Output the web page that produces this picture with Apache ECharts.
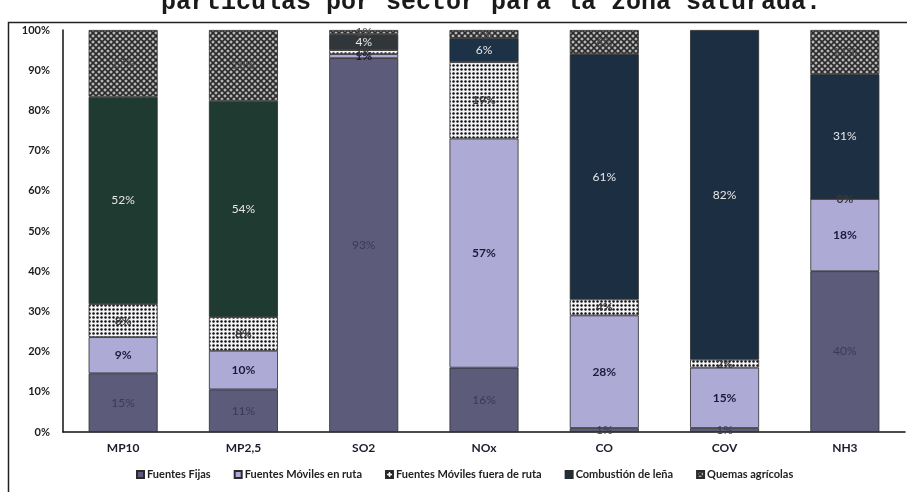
<!DOCTYPE html>
<html>
<head>
<meta charset="utf-8">
<script src="https://cdn.jsdelivr.net/npm/echarts@6/dist/echarts.min.js"></script>
<style>
  html, body { margin: 0; padding: 0; background: #ffffff; }
  #chart { width: 907px; height: 492px; }
</style>
</head>
<body>
<div id="chart"></div>
<script>
// Emission shares (%) by source sector for each pollutant
const categories = ['MP10', 'MP2,5', 'SO2', 'NOx', 'CO', 'COV', 'NH3'];
const seriesNames = ['Fuentes Fijas', 'Fuentes Móviles en ruta', 'Fuentes Móviles fuera de ruta', 'Combustión de leña', 'Quemas agrícolas'];
const fuentesFijas     = [14.6, 10.6, 93, 16, 1, 1, 40];
const movilesRuta      = [9.0, 9.6, 1, 57, 28, 15, 18];
const movilesFueraRuta = [8.2, 8.4, 1, 19, 4, 2, 0];
const combustionLena   = [51.6, 53.8, 4, 6, 61, 82, 31];
const quemasAgricolas  = [16.6, 17.6, 1, 2, 6, null, 11];
const yTicks = ['0%', '10%', '20%', '30%', '40%', '50%', '60%', '70%', '80%', '90%', '100%'];

// Print tone of the wood-burning segment in each column
const lenaTones = ['#1f3a31', '#1f3a31', '#30363a', '#1d3246', '#1b2e42', '#1b2e42', '#1c2f43'];

function makePattern(size, draw) {
  const c = document.createElement('canvas');
  c.width = size; c.height = size;
  draw(c.getContext('2d'), size);
  return { image: c, repeat: 'repeat' };
}

// Dotted fill for off-road mobile sources
const dotPattern = makePattern(4, function (ctx, s) {
  ctx.fillStyle = '#f4f4f8';
  ctx.fillRect(0, 0, s, s);
  ctx.fillStyle = '#111111';
  ctx.beginPath();
  ctx.arc(1.5, 1.5, 1.25, 0, Math.PI * 2);
  ctx.fill();
});

// Diamond cross-hatch for agricultural burning
const hatchPattern = makePattern(6, function (ctx, s) {
  ctx.fillStyle = '#b8b8b8';
  ctx.fillRect(0, 0, s, s);
  ctx.strokeStyle = '#2a2a2a';
  ctx.lineWidth = 1.6;
  ctx.beginPath();
  ctx.moveTo(0, 0); ctx.lineTo(s, s);
  ctx.moveTo(s, 0); ctx.lineTo(0, s);
  ctx.stroke();
});

const font = 'Lato, "Open Sans", sans-serif';
const pct = p => Math.round(p.value) + '%';

function bar(name, values, color, labelColor, labelWeight, itemColors) {
  return {
    name: name,
    type: 'bar',
    stack: 'total',
    barWidth: 69,
    data: values.map((v, i) => itemColors ? { value: v, itemStyle: { color: itemColors[i] } } : v),
    itemStyle: { color: color, borderColor: '#2b2b2b', borderWidth: 0.8 },
    label: {
      show: true,
      position: 'inside',
      formatter: pct,
      color: labelColor,
      fontFamily: font,
      fontSize: 12,
      fontWeight: labelWeight
    },
    emphasis: { disabled: true }
  };
}

const chart = echarts.init(document.getElementById('chart'), null, { renderer: 'canvas' });
chart.setOption({
  animation: false,
  backgroundColor: '#ffffff',
  graphic: [
    {
      type: 'rect',
      shape: { x: 8.5, y: 22.5, width: 920, height: 500 },
      style: { fill: 'none', stroke: '#222222', lineWidth: 1.5 },
      silent: true
    },
    {
      type: 'text',
      x: 491,
      y: 15,
      style: {
        text: 'partículas por sector para la zona saturada.',
        fontFamily: '"Liberation Mono", "DejaVu Sans Mono", monospace',
        fontWeight: 'bold',
        fontSize: 25,
        fill: '#1a1a1a',
        align: 'center',
        verticalAlign: 'bottom'
      },
      silent: true
    }
  ],
  grid: { left: 63, right: 2, top: 30, bottom: 60, containLabel: false },
  legend: {
    top: 464,
    left: 131,
    itemWidth: 7,
    itemHeight: 7,
    itemGap: 23,
    icon: 'rect',
    data: seriesNames,
    textStyle: { fontFamily: font, fontSize: 11, fontWeight: 'bold', color: '#222222', padding: [0, 0, 0, -2] }
  },
  xAxis: {
    type: 'category',
    data: categories,
    axisLine: { lineStyle: { color: '#111111', width: 1.5 } },
    axisTick: { show: false },
    axisLabel: { margin: 10, fontFamily: font, fontSize: 12, fontWeight: 'bold', color: '#1c1c2c' }
  },
  yAxis: {
    type: 'value',
    min: 0,
    max: 100,
    interval: 10,
    axisLine: { show: true, lineStyle: { color: '#111111', width: 1.5 } },
    axisTick: { show: false },
    splitLine: { show: false },
    axisLabel: {
      margin: 13,
      fontFamily: font,
      fontSize: 11,
      fontWeight: 'bold',
      color: '#1c1c1c',
      formatter: v => yTicks[Math.round(v / 10)]
    }
  },
  series: [
    bar(seriesNames[0], fuentesFijas, '#5d5b7a', '#3b3a52', 'normal'),
    bar(seriesNames[1], movilesRuta, '#aeaad6', '#1a1a3c', 'bold'),
    bar(seriesNames[2], movilesFueraRuta, dotPattern, '#3a3a3a', 'bold'),
    bar(seriesNames[3], combustionLena, '#1c2f3f', '#e6e6e6', 'normal', lenaTones),
    bar(seriesNames[4], quemasAgricolas, hatchPattern, '#4a4a4a', 'normal')
  ]
});
</script>
</body>
</html>
